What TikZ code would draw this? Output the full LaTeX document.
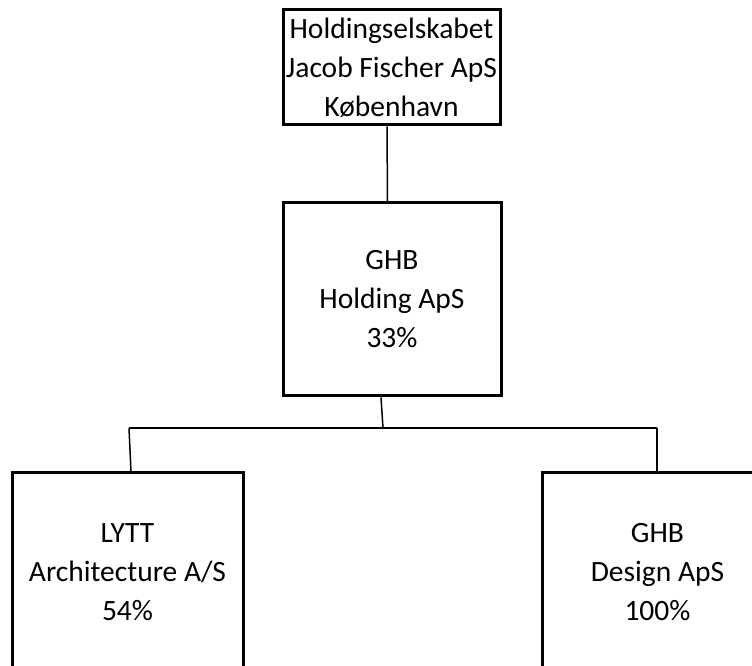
\documentclass[tikz,border=0pt]{standalone}
\usepackage{fontspec}
\setmainfont{Carlito}
\begin{document}
\begin{tikzpicture}[x=1pt,y=1pt,
  box/.style={draw=black, line width=3pt, fill=white, align=center, inner sep=0pt,
    font=\fontsize{29.5}{39}\selectfont, text=black},
  conn/.style={draw=black, line width=1.5pt}]
\clip (0,0) rectangle (752,666);
\fill[white] (0,0) rectangle (752,666);
\node[box, minimum width=217pt, minimum height=115pt] (top) at (391.5,598.5)
  {Holdingselskabet\\Jacob Fischer ApS\\København};
\node[box, minimum width=218pt, minimum height=193pt] (mid) at (392,366.5)
  {GHB\\Holding ApS\\33\%};
\node[box, minimum width=231pt, minimum height=198pt] (left) at (127.5,94)
  {LYTT\\Architecture A/S\\54\%};
\node[box, minimum width=231pt, minimum height=198pt] (right) at (657.5,94)
  {GHB\\Design ApS\\100\%};
\coordinate (jl) at (129,238);
\coordinate (jr) at (657,238);
\coordinate (jm) at (383,238);
\draw[conn] ([xshift=-4.5pt]top.south) -- ([xshift=-4.5pt]mid.north);
\draw[conn] ([xshift=-11pt]mid.south) -- (jm);
\draw[conn] (jl) -- (jr);
\draw[conn] (jl) -- ([xshift=3.5pt]left.north);
\draw[conn] (jr) -- ([xshift=-0.5pt]right.north);
\end{tikzpicture}
\end{document}
